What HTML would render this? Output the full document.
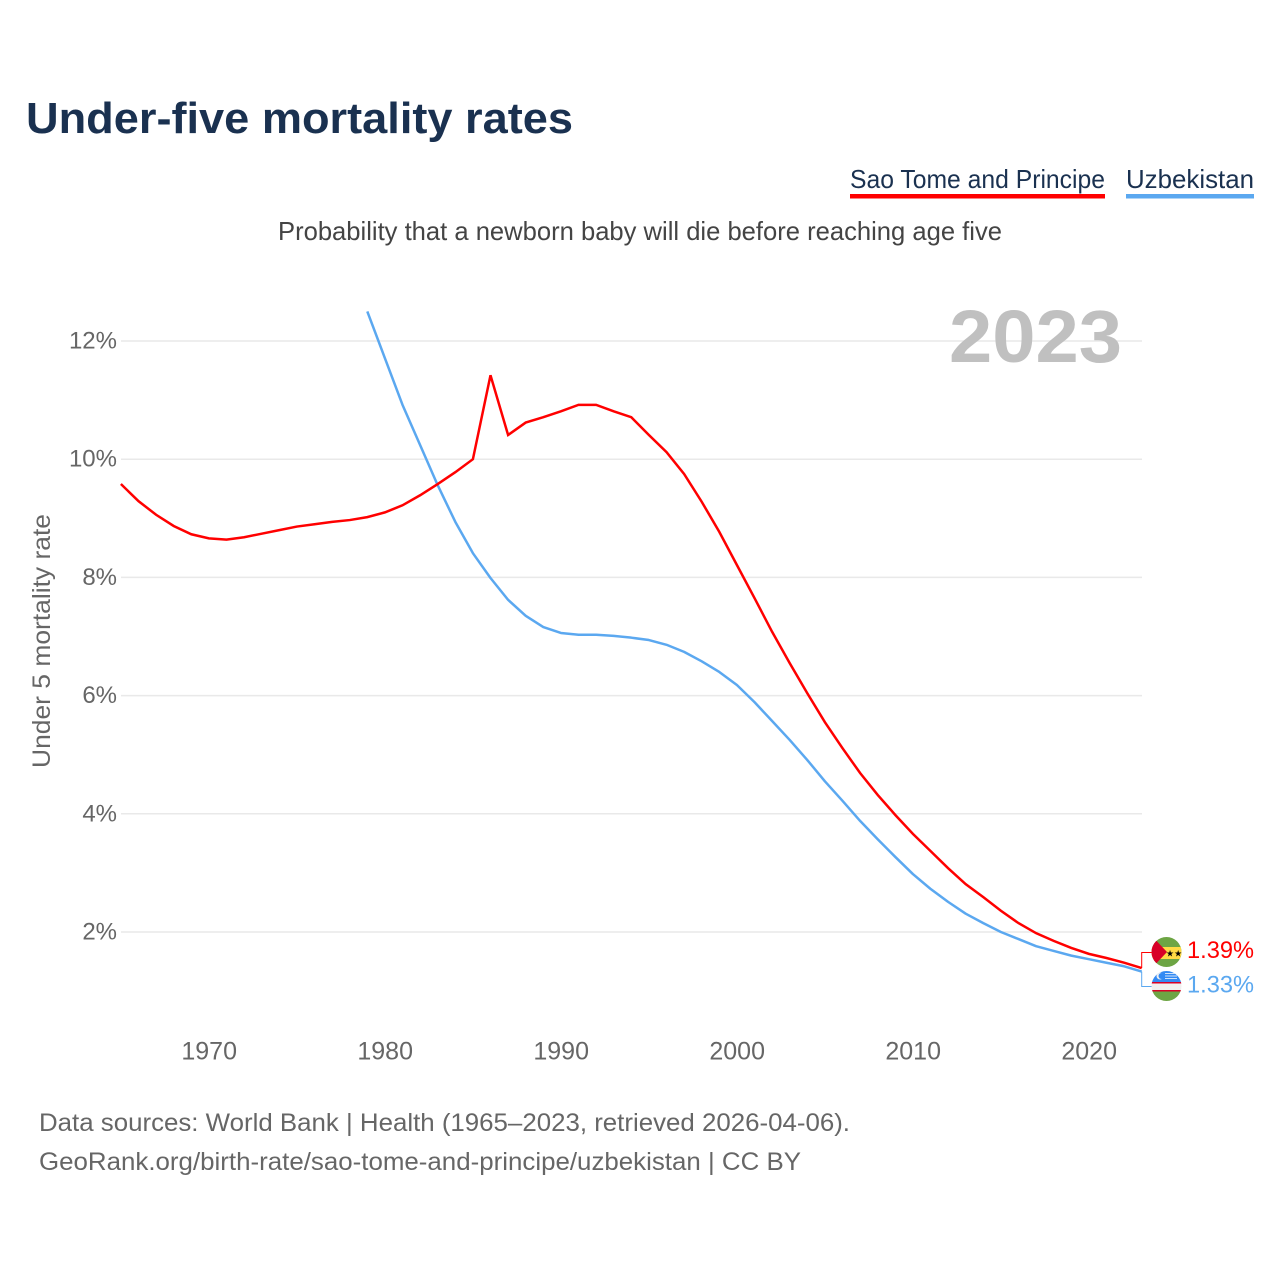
<!DOCTYPE html>
<html lang="en">
<head>
<meta charset="utf-8">
<title>Under-five mortality rates</title>
<style>
  html, body { margin: 0; padding: 0; background: #fff; }
  svg { display: block; font-family: "Liberation Sans", sans-serif; }
</style>
</head>
<body>
<svg id="chart" xmlns="http://www.w3.org/2000/svg" width="1280" height="1280" viewBox="0 0 1280 1280">
  <defs>
    <clipPath id="plot-clip"><rect x="118" y="311" width="1026" height="740"/></clipPath>
    <clipPath id="st-clip"><circle cx="1166.5" cy="952" r="15"/></clipPath>
    <clipPath id="uz-clip"><circle cx="1166.5" cy="986" r="15"/></clipPath>
  </defs>

  <text x="26" y="133" font-size="44" font-weight="700" fill="#1a3150" textLength="547" lengthAdjust="spacingAndGlyphs">Under-five mortality rates</text>

  <g>
    <text x="850" y="188" font-size="26" fill="#1a3150" textLength="255" lengthAdjust="spacingAndGlyphs">Sao Tome and Principe</text>
    <rect x="850" y="194" width="255" height="4.5" fill="#ff0000"/>
  </g>
  <g>
    <text x="1126" y="188" font-size="26" fill="#1a3150" textLength="128" lengthAdjust="spacingAndGlyphs">Uzbekistan</text>
    <rect x="1126" y="194" width="128" height="4.5" fill="#5ba8f0"/>
  </g>

  <text x="278" y="240" font-size="26" fill="#444444" textLength="724" lengthAdjust="spacingAndGlyphs">Probability that a newborn baby will die before reaching age five</text>

  <g id="grid"></g>

  <text x="949" y="362" font-size="74" font-weight="700" fill="#c0c0c0" textLength="173" lengthAdjust="spacingAndGlyphs">2023</text>

  <g id="y-ticks"></g>
  <g id="x-ticks"></g>

  <text transform="translate(50,768) rotate(-90)" font-size="25" fill="#666666" textLength="254" lengthAdjust="spacingAndGlyphs">Under 5 mortality rate</text>

  <g id="series" clip-path="url(#plot-clip)"></g>

  <path id="conn-st" d="" fill="none" stroke="#ff0000" stroke-width="1"/>
  <path id="conn-uz" d="" fill="none" stroke="#5ba8f0" stroke-width="1"/>

  <g clip-path="url(#st-clip)">
    <rect x="1151" y="936" width="31" height="32" fill="#6da544"/>
    <rect x="1151" y="947" width="31" height="12" fill="#ffda44"/>
    <polygon points="1150,934 1167,952 1150,970" fill="#d80027"/>
    <text x="1166" y="956.5" font-size="9" fill="#000" font-family="'DejaVu Sans', sans-serif">★★</text>
  </g>
  <g clip-path="url(#uz-clip)">
    <rect x="1151" y="970" width="31" height="12" fill="#338af3"/>
    <rect x="1151" y="982" width="31" height="9" fill="#f0f0f0"/>
    <rect x="1151" y="982" width="31" height="1.5" fill="#d80027"/>
    <rect x="1151" y="990" width="31" height="1.5" fill="#d80027"/>
    <rect x="1151" y="991.5" width="31" height="10" fill="#6da544"/>
    <circle cx="1160" cy="976" r="3.5" fill="#f0f0f0"/>
    <circle cx="1161.5" cy="976" r="3" fill="#338af3"/>
    <rect x="1165" y="973" width="10" height="1" fill="#cfe3fb"/>
    <rect x="1165" y="975.5" width="12" height="1" fill="#cfe3fb"/>
    <rect x="1165" y="978" width="12" height="1" fill="#cfe3fb"/>
  </g>

  <text x="1187" y="958" font-size="24.5" fill="#ff0000" textLength="67" lengthAdjust="spacingAndGlyphs">1.39%</text>
  <text x="1187" y="992.5" font-size="24.5" fill="#5ba8f0" textLength="67" lengthAdjust="spacingAndGlyphs">1.33%</text>

  <text x="39" y="1131" font-size="25" fill="#666666" textLength="811" lengthAdjust="spacingAndGlyphs">Data sources: World Bank | Health (1965–2023, retrieved 2026-04-06).</text>
  <text x="39" y="1170" font-size="25" fill="#666666" textLength="762" lengthAdjust="spacingAndGlyphs">GeoRank.org/birth-rate/sao-tome-and-principe/uzbekistan | CC BY</text>
</svg>

<script>
const yTickValues = [2, 4, 6, 8, 10, 12];
const xTickYears = [1970, 1980, 1990, 2000, 2010, 2020];
const saoTomeStartYear = 1965;
const saoTomeValues = [
  9.58, 9.29, 9.06, 8.87, 8.73, 8.66, 8.64, 8.68, 8.74, 8.80,
  8.86, 8.90, 8.94, 8.97, 9.02, 9.10, 9.22, 9.39, 9.58, 9.78,
  10.0, 11.42, 10.41, 10.62, 10.71, 10.81, 10.92, 10.92, 10.81, 10.71,
  10.41, 10.12, 9.75, 9.28, 8.77, 8.21, 7.65, 7.08, 6.55, 6.04,
  5.55, 5.11, 4.69, 4.32, 3.98, 3.66, 3.37, 3.08, 2.81, 2.59,
  2.36, 2.15, 1.98, 1.85, 1.73, 1.63, 1.56, 1.48, 1.39
];
const uzbekistanStartYear = 1979;
const uzbekistanValues = [
  12.5, 11.71, 10.92, 10.24, 9.56, 8.94, 8.41, 7.99, 7.62, 7.35,
  7.16, 7.06, 7.03, 7.03, 7.01, 6.98, 6.94, 6.86, 6.74, 6.58,
  6.40, 6.18, 5.89, 5.57, 5.25, 4.91, 4.55, 4.22, 3.88, 3.57,
  3.27, 2.98, 2.73, 2.51, 2.31, 2.15, 2.00, 1.88, 1.76, 1.68,
  1.60, 1.54, 1.48, 1.42, 1.33
];

const NS = 'http://www.w3.org/2000/svg';
function xScale(year) { return 120.9 + (year - 1965) * 17.6; }
function yScale(value) { return 1050.2 - value * 59.1; }

function make(tag, attrs, text) {
  const el = document.createElementNS(NS, tag);
  for (const k in attrs) el.setAttribute(k, attrs[k]);
  if (text !== undefined) el.textContent = text;
  return el;
}

const gridGroup = document.getElementById('grid');
const yGroup = document.getElementById('y-ticks');
yTickValues.forEach(function (v) {
  const line = make('line', { x1: 121, x2: 1142, y1: yScale(v), y2: yScale(v), stroke: '#e9e9e9', 'stroke-width': 1.5 });
  
  
  gridGroup.appendChild(line);
  const label = make('text', { x: 117, y: yScale(v) + 7.5, 'text-anchor': 'end', 'font-size': 24, fill: '#666666' }, v + '%');
  
  
  yGroup.appendChild(label);
});

const xGroup = document.getElementById('x-ticks');
xTickYears.forEach(function (yr) {
  const label = make('text', { x: xScale(yr) + 0.3, y: 1059.5, 'text-anchor': 'middle', 'font-size': 25, fill: '#666666' }, String(yr));
  
  
  xGroup.appendChild(label);
});

function linePoints(startYear, values) {
  return values.map(function (v, i) {
    return xScale(startYear + i).toFixed(2) + ',' + yScale(v).toFixed(2);
  }).join(' ');
}

const seriesGroup = document.getElementById('series');
const blueLine = make('polyline', { points: linePoints(uzbekistanStartYear, uzbekistanValues), fill: 'none', stroke: '#5ba8f0', 'stroke-width': 2.5, 'stroke-linejoin': 'round' });


seriesGroup.appendChild(blueLine);
const redLine = make('polyline', { points: linePoints(saoTomeStartYear, saoTomeValues), fill: 'none', stroke: '#ff0000', 'stroke-width': 2.5, 'stroke-linejoin': 'miter' });


seriesGroup.appendChild(redLine);

const lastX = xScale(2023);
const lastSt = yScale(saoTomeValues[saoTomeValues.length - 1]);
const lastUz = yScale(uzbekistanValues[uzbekistanValues.length - 1]);
document.getElementById('conn-st').setAttribute('d', 'M' + lastX + ' ' + lastSt + ' V952.5 H1152');
document.getElementById('conn-uz').setAttribute('d', 'M' + lastX + ' ' + lastUz + ' V986.5 H1152');
</script>
</body>
</html>
